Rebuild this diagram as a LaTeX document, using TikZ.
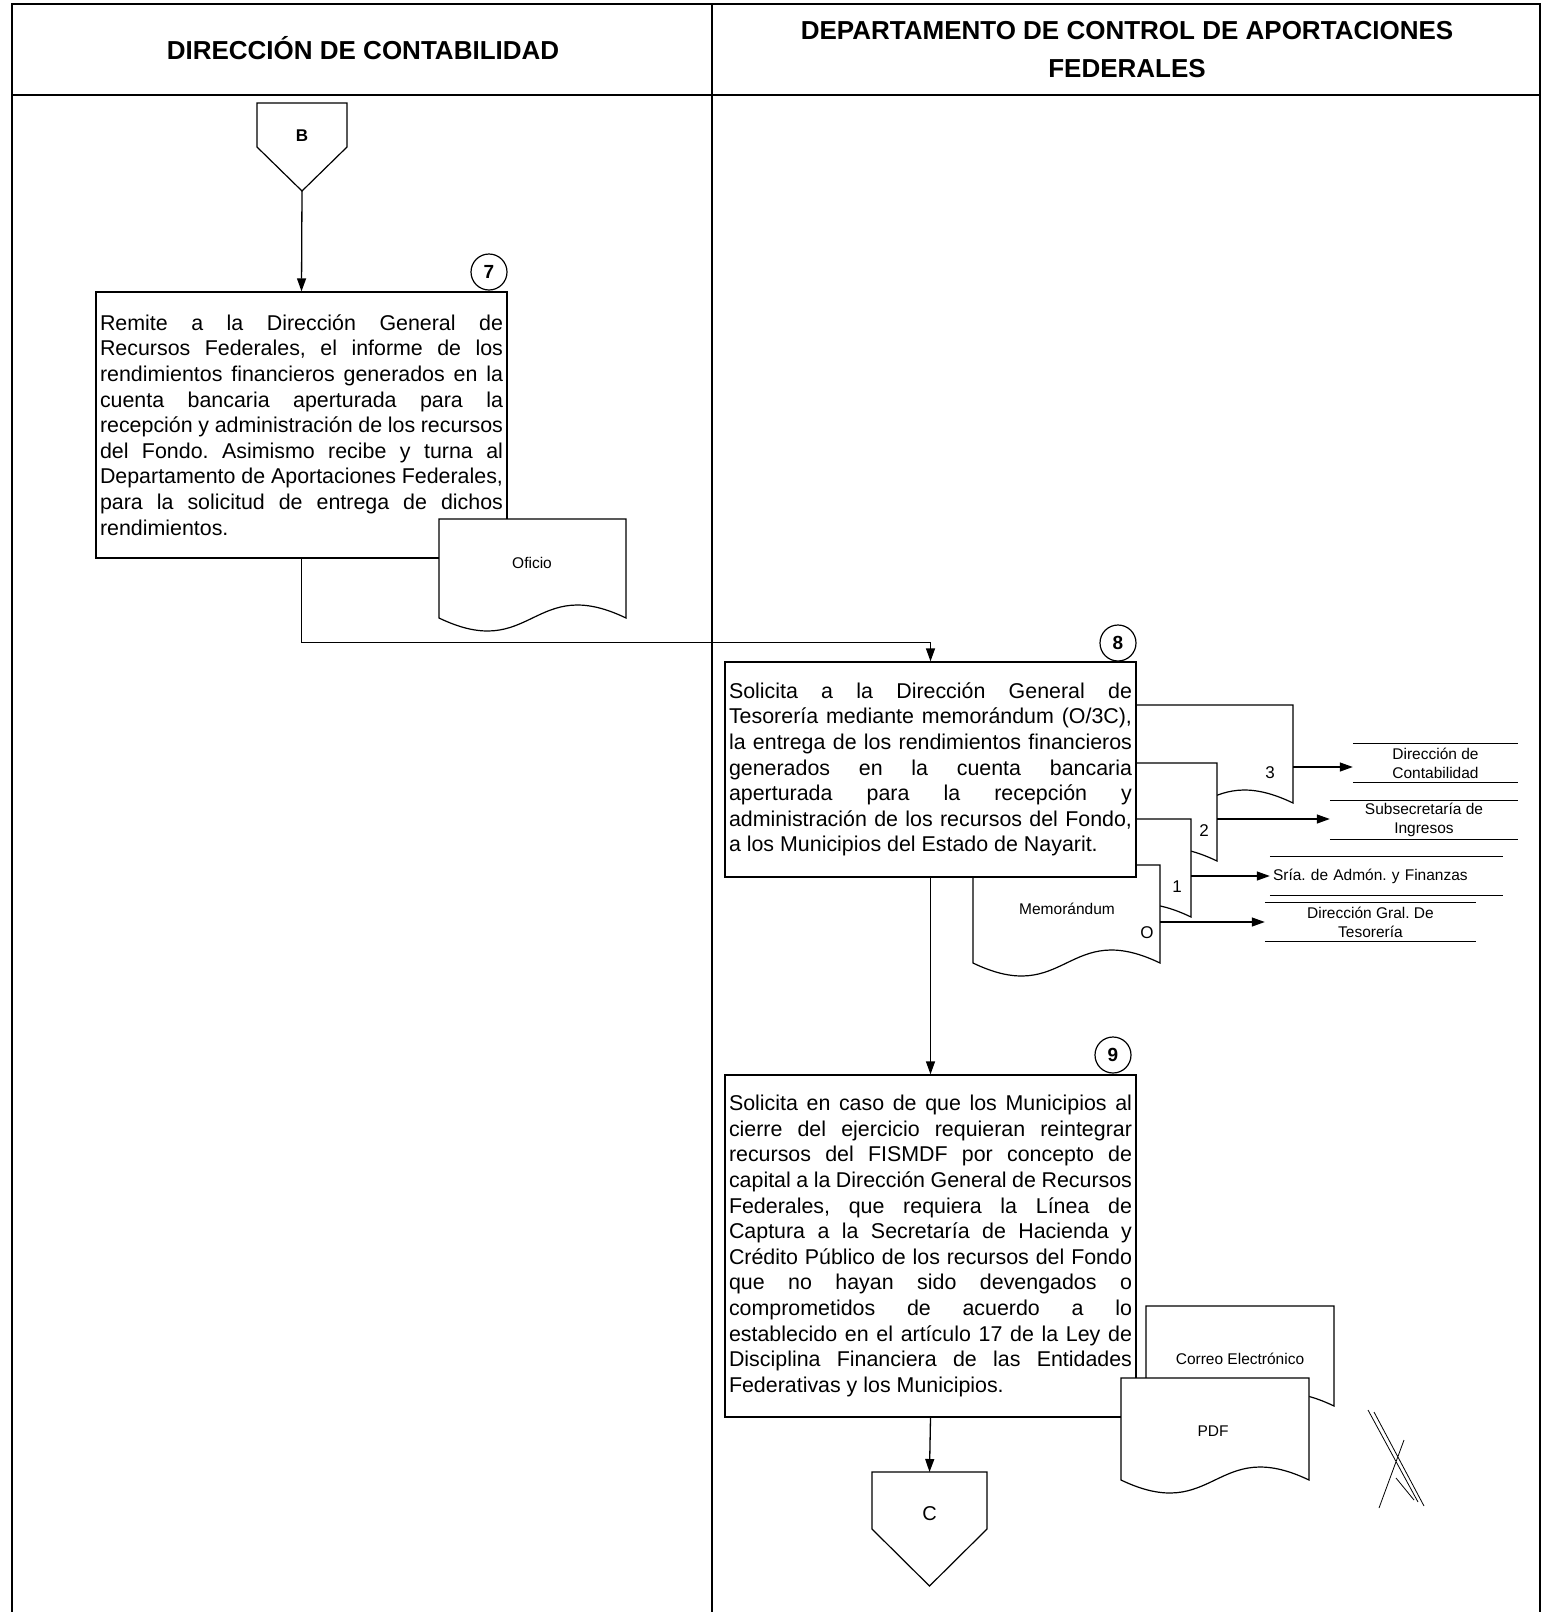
\documentclass[tikz,border=0pt]{standalone}
\usepackage{fontspec}
\setmainfont{Liberation Sans}
\usepackage{tikz}
\tikzset{procbox/.style={rectangle,draw=black,fill=white,line width=1.3pt,text width=403pt,inner sep=4pt,align=justify,
                         font=\fontsize{21.4}{25.6}\selectfont},
         numnode/.style={circle,draw=black,fill=white,line width=1.2pt,minimum size=36pt,inner sep=0pt,font=\fontsize{19}{19}\selectfont\bfseries},
         docline/.style={draw=black,fill=white,line width=1.2pt},
         docarea/.style={rectangle,inner sep=0pt,outer sep=0pt,anchor=north west},
         offpage/.style={rectangle,inner sep=0pt,outer sep=0pt},
         smalltext/.style={font=\fontsize{15.5}{19}\selectfont,align=center,inner sep=1pt},
         copynum/.style={font=\fontsize{17}{17}\selectfont,inner sep=1pt},
         destnode/.style={smalltext,minimum height=38pt,inner sep=0pt},
         flow/.style={line width=1.3pt,-{Triangle[length=13pt,width=9pt]}},
         frame/.style={line width=1.6pt}}
\usetikzlibrary{calc}
\usetikzlibrary{arrows.meta}
\hyphenpenalty=10000
\exhyphenpenalty=10000
\frenchspacing
\newcommand{\docshape}[5]{%
  \filldraw[docline] (#2,#3) -- ++(#4,0) -- ++(0,#5) .. controls +(-0.5*#4,-45) and +(0.5*#4,45) .. ++(-#4,0) -- cycle;
  \node[docarea,minimum width=#4pt,minimum height=#5pt] (#1) at (#2,#3) {};}

\begin{document}
\begin{tikzpicture}[x=1pt,y=-1pt]
\useasboundingbox (0,0) rectangle (1544,1612);
\draw[frame] (12,1612) -- (12,4) -- (1540,4) -- (1540,1612);
\draw[frame] (12,95) -- (1540,95);
\draw[frame] (712,4) -- (712,1612);
\node[font=\fontsize{26}{37}\selectfont\bfseries] (hdrcont) at (363,48) {DIRECCIÓN DE CONTABILIDAD};
\node[font=\fontsize{26}{38}\selectfont\bfseries,align=center] (hdrdep) at (1127,50) {DEPARTAMENTO DE CONTROL DE APORTACIONES\\FEDERALES};

\node[offpage,minimum width=90pt,minimum height=44pt] (offB) at (302,125) {};
\filldraw[docline] (offB.south west) |- (offB.north east) -- (offB.south east) -- ++(-45,44) coordinate (offBtip) -- cycle;
\node[font=\fontsize{17}{17}\selectfont\bfseries] (offBtxt) at (302,136) {B};

\node[procbox,minimum height=266pt] (act7) at (301.5,425) {Remite a la Dirección General de\linebreak
Recursos Federales, el informe de los\linebreak
rendimientos financieros generados en la\linebreak
cuenta bancaria aperturada para la\linebreak
recepción y administración de los recursos\linebreak
del Fondo. Asimismo recibe y turna al\linebreak
Departamento de Aportaciones Federales,\linebreak
para la solicitud de entrega de dichos\linebreak
rendimientos.};
\node[numnode] (num7) at (489,272) {7};
\docshape{oficio}{439}{519}{187}{99}
\node[smalltext] (oficiotxt) at (532,563) {Oficio};

\docshape{mem3}{1106}{705}{187}{98}
\docshape{mem2}{1030}{763}{187}{98}
\docshape{mem1}{1004}{819}{187}{98}
\docshape{mem0}{973}{865}{187}{98}
\node[smalltext] (memtxt) at (1067,909) {Memorándum};
\node[copynum] (cn3) at (1270,773) {3};
\node[copynum] (cn2) at (1204,831) {2};
\node[copynum] (cn1) at (1177,887) {1};
\node[copynum] (cn0) at (1147,933) {O};

\node[procbox,minimum height=215pt] (act8) at (930.5,769.5) {Solicita a la Dirección General de\linebreak
Tesorería mediante memorándum (O/3C),\linebreak
la entrega de los rendimientos financieros\linebreak
generados en la cuenta bancaria\linebreak
aperturada para la recepción y\linebreak
administración de los recursos del Fondo,\linebreak
a los Municipios del Estado de Nayarit.};
\node[numnode] (num8) at (1118,643) {8};

\node[destnode,minimum width=165pt] (dcont) at (1435.5,763) {Dirección de\\Contabilidad};
\node[destnode,minimum width=188pt] (ssing) at (1424,820) {Subsecretaría de\\Ingresos};
\node[destnode,minimum width=233pt,text width=227pt,align=left] (safin) at (1386.5,876) {Sría. de Admón. y Finanzas};
\node[destnode,minimum width=211pt] (dgteso) at (1370.5,922) {Dirección Gral. De\\Tesorería};
\foreach \n in {dcont,ssing,safin,dgteso}
  \draw[line width=1pt] (\n.north west) -- (\n.north east) (\n.south west) -- (\n.south east);
\coordinate (out3) at ($(mem3.north east)+(0,62)$);
\coordinate (out2) at ($(mem2.north east)+(0,56)$);
\coordinate (out1) at ($(mem1.north east)+(0,57)$);
\coordinate (out0) at ($(mem0.north east)+(0,57)$);
\draw[flow] (out3) -- (out3 -| dcont.west);
\draw[flow] (out2) -- (out2 -| ssing.west);
\draw[flow] (out1) -- (out1 -| safin.west);
\draw[flow] (out0) -- (out0 -| dgteso.west);

\node[procbox,minimum height=342pt] (act9) at (930.5,1246) {Solicita en caso de que los Municipios al\linebreak
cierre del ejercicio requieran reintegrar\linebreak
recursos del FISMDF por concepto de\linebreak
capital a la Dirección General de Recursos\linebreak
Federales, que requiera la Línea de\linebreak
Captura a la Secretaría de Hacienda y\linebreak
Crédito Público de los recursos del Fondo\linebreak
que no hayan sido devengados o\linebreak
comprometidos de acuerdo a lo\linebreak
establecido en el artículo 17 de la Ley de\linebreak
Disciplina Financiera de las Entidades\linebreak
Federativas y los Municipios.};
\node[numnode] (num9) at (1113,1055) {9};
\docshape{correo}{1146}{1306}{188}{100}
\node[smalltext] (correotxt) at (1240,1359) {Correo Electrónico};
\docshape{pdf}{1121}{1378}{188}{102}
\node[smalltext] (pdftxt) at (1213,1431) {PDF};

\node[offpage,minimum width=115pt,minimum height=57pt] (offC) at (929.5,1500.5) {};
\filldraw[docline] (offC.south west) |- (offC.north east) -- (offC.south east) -- ++(-57.5,57) -- cycle;
\node[font=\fontsize{20}{20}\selectfont] (offCtxt) at (929.5,1514) {C};

\draw[flow] (offBtip) -- (act7.north);
\draw[flow] (act7.south) -- ++(0,84) -| (act8.north);
\draw[flow] (act8.south) -- (act9.north);
\draw[flow] (act9.south) -- (offC.north);

\draw[line width=0.8pt] (1368,1410) -- (1418,1502) (1374,1412) -- (1424,1506) (1379,1508) -- (1404,1440) (1396,1478) -- (1414,1500);
\end{tikzpicture}
\end{document}
